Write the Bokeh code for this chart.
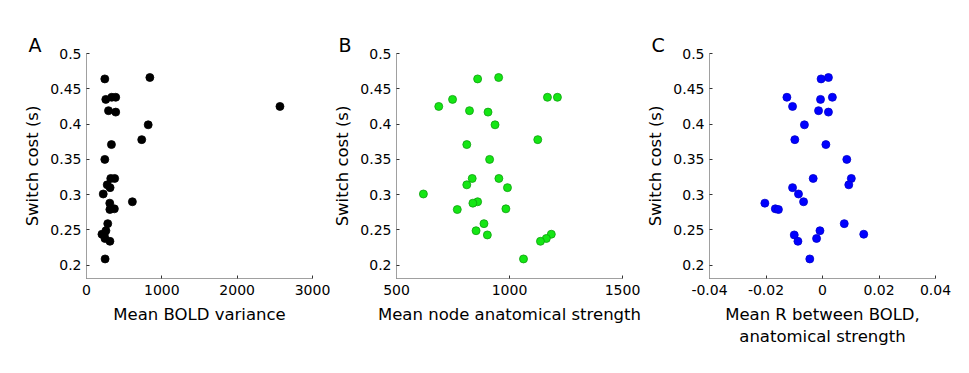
from bokeh.plotting import figure
from bokeh.layouts import row
from bokeh.models import Range1d, FixedTicker
from bokeh.embed import file_html
from bokeh.resources import INLINE

# Shared switch cost values (s), one per subject
switch_cost = [0.466, 0.464, 0.438, 0.438, 0.435, 0.425, 0.419, 0.417, 0.399, 0.378,
               0.371, 0.350, 0.323, 0.323, 0.314, 0.310, 0.301, 0.290, 0.288, 0.280,
               0.279, 0.259, 0.249, 0.244, 0.243, 0.238, 0.234, 0.209]

# Panel A: mean BOLD variance
bold_variance = [841, 243, 335, 388, 256, 2568, 292, 388, 819, 733,
                 331, 243, 322, 374, 275, 313, 222, 609, 309, 370,
                 310, 282, 258, 205, 235, 245, 311, 247]

# Panel B: mean node anatomical strength
anat_strength = [952, 859, 1168, 1212, 748, 687, 823, 905, 936, 1125,
                 811, 912, 835, 953, 811, 991, 619, 859, 838, 984,
                 769, 887, 852, 1185, 902, 1163, 1137, 1062]

# Panel C: mean R between BOLD and anatomical strength
mean_r = [0.0021, -0.0005, -0.0126, 0.0035, -0.0007, -0.0106, -0.0014, 0.0021, -0.0064, -0.0098,
          0.0012, 0.0086, -0.0033, 0.0102, 0.0093, -0.0106, -0.0085, -0.0067, -0.0204, -0.0167,
          -0.0156, 0.0077, -0.0009, 0.0146, -0.0100, -0.0021, -0.0087, -0.0045]

y_ticks = [0.2, 0.25, 0.3, 0.35, 0.4, 0.45, 0.5]
y_tick_labels = ["0.2", "0.25", "0.3", "0.35", "0.4", "0.45", "0.5"]
a_ticks = [0, 1000, 2000, 3000]
a_tick_labels = ["0", "1000", "2000", "3000"]
b_ticks = [500, 1000, 1500]
b_tick_labels = ["500", "1000", "1500"]
c_ticks = [-0.04, -0.02, 0, 0.02, 0.04]
c_tick_labels = ["-0.04", "-0.02", "0", "0.02", "0.04"]

FONT = "DejaVu Sans"
TOP = 53
FH = 225
BOTTOM = 75


def make_panel(letter, xs, xr, xticks, xlabels, xlabel, color, edge, width, left):
    p = figure(width=width, frame_width=226, frame_height=FH,
               x_range=Range1d(*xr), y_range=Range1d(0.1813, 0.5),
               output_backend="svg", toolbar_location=None,
               min_border_left=left, min_border_right=width - left - 226,
               min_border_top=TOP, min_border_bottom=BOTTOM,
               title=letter)
    p.outline_line_color = None
    p.grid.visible = False
    p.background_fill_color = "white"
    p.border_fill_color = "white"
    p.scatter(xs, switch_cost, size=8, fill_color=color, line_color=edge, line_width=0.8)

    p.title.align = "left"
    p.title.offset = -58
    p.title.standoff = -4
    p.title.text_font = FONT
    p.title.text_font_size = "19px"
    p.title.text_font_style = "normal"
    p.title.text_color = "black"

    for ax, ticks, labels in ((p.xaxis[0], xticks, xlabels), (p.yaxis[0], y_ticks, y_tick_labels)):
        ax.ticker = FixedTicker(ticks=ticks)
        ax.major_label_overrides = {t: l for t, l in zip(ticks, labels)}
        ax.axis_line_color = "#a0a0a0"
        ax.axis_line_width = 1
        ax.major_tick_line_color = "#333333"
        ax.major_tick_in = 3
        ax.major_tick_out = 0
        ax.minor_tick_line_color = None
        ax.major_label_text_font = FONT
        ax.major_label_text_font_size = "14px"
        ax.major_label_text_color = "black"
        ax.axis_label_text_font = FONT
        ax.axis_label_text_font_size = "16.5px"
        ax.axis_label_text_font_style = "normal"
        ax.axis_label_text_color = "black"
    p.xaxis[0].axis_label = xlabel
    p.xaxis[0].major_label_standoff = 6
    p.xaxis[0].axis_label_standoff = 7
    p.yaxis[0].axis_label = "Switch cost (s)"
    p.yaxis[0].major_label_standoff = 5
    p.yaxis[0].axis_label_standoff = 5
    return p


pa = make_panel("A", bold_variance, (0, 3000), a_ticks, a_tick_labels,
                "Mean BOLD variance", "black", "black", 330, 86)
pb = make_panel("B", anat_strength, (500, 1500), b_ticks, b_tick_labels,
                "Mean node anatomical strength", "#14e614", "#0f9f0f", 310, 63)
pc = make_panel("C", mean_r, (-0.04, 0.04), c_ticks, c_tick_labels,
                "Mean R between BOLD,\nanatomical strength", "#0000ff", "#0000cc", 320, 60)

layout = row(pa, pb, pc, spacing=0)
open("out.html", "w").write(file_html(layout, INLINE))
